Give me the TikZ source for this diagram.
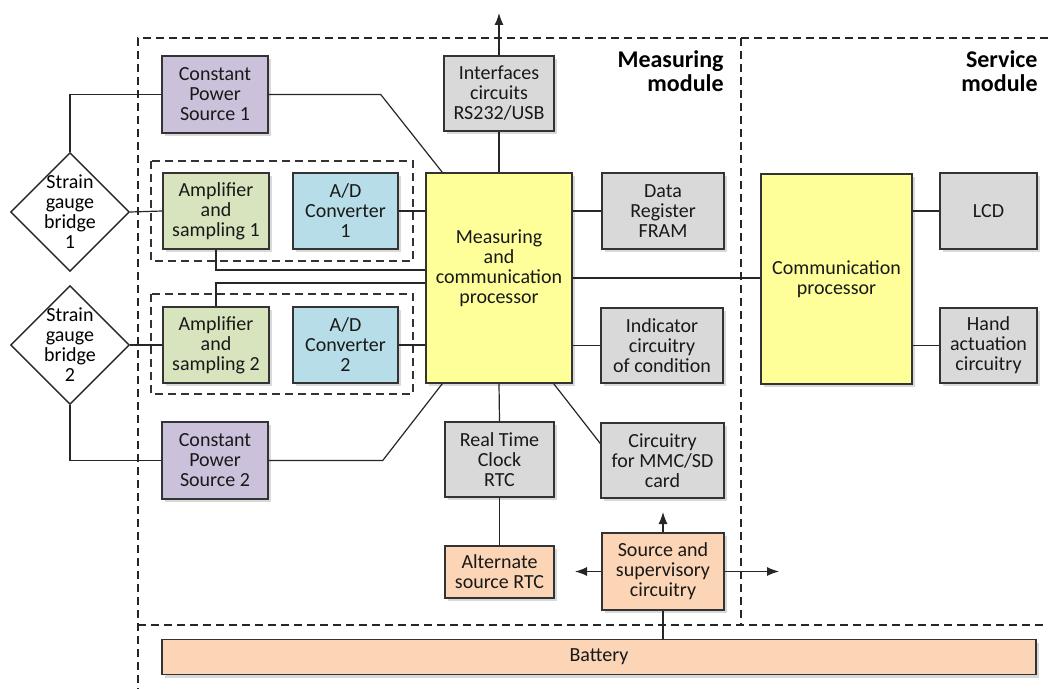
\documentclass[tikz,border=0pt]{standalone}
\usepackage{fontspec}
\setmainfont{Carlito}
\usetikzlibrary{shapes, arrows.meta, positioning, shadows}
\definecolor{cpscol}{RGB}{204,193,218}
\definecolor{ampcol}{RGB}{215,228,189}
\definecolor{adccol}{RGB}{183,222,232}
\definecolor{proccol}{RGB}{255,255,153}
\definecolor{boxcol}{RGB}{217,217,217}
\definecolor{srccol}{RGB}{251,213,181}
\tikzstyle{block} = [draw=black!80, line width=0.7pt, rectangle, align=center, inner sep=1pt, text=black!90, font=\fontsize{10}{10}\selectfont, drop shadow={shadow xshift=1.5pt, shadow yshift=-1.5pt, opacity=0.3}]
\tikzstyle{bridge} = [draw=black!85, line width=0.7pt, diamond, aspect=1, minimum size=59.5pt, inner sep=-1pt, align=center, fill=white, font=\fontsize{10}{10}\selectfont]
\tikzstyle{group} = [draw=black!80, line width=0.8pt, dash pattern=on 4pt off 2.5pt]
\tikzstyle{module} = [draw=black!85, line width=0.9pt, dash pattern=on 4pt off 2.5pt]
\tikzstyle{modlabel} = [align=right, inner sep=0pt, font=\bfseries\fontsize{12}{12}\selectfont]
\tikzstyle{wire} = [draw=black!85, line width=0.6pt]

\begin{document}
\begin{tikzpicture}[x=0.5pt, y=-0.5pt, >={Latex[length=6pt,width=4.5pt]}]
    \useasboundingbox (0,0) rectangle (1048,689);
    \draw [module] (1048,38) -- (138,38) -- (138,689);
    \draw [module] (741,38) -- (741,625);
    \draw [module] (138,625) -- (1048,625);
    \node [modlabel, anchor=north east] (meas) at (724,50) {Measuring\\module};
    \node [modlabel, anchor=north east] (serv) at (1038,50) {Service\\module};
    \draw [group] (151,161) rectangle (413,261);
    \draw [group] (151,294) rectangle (413,394);

    \node [block, fill=cpscol, minimum width=53pt, minimum height=38.5pt] (cps1) at (215,94.5) {Constant\\Power\\Source 1};
    \node [block, fill=cpscol, minimum width=53pt, minimum height=38.5pt] (cps2) at (215,460.5) {Constant\\Power\\Source 2};
    \node [bridge] (sgb1) at (70,212) {Strain\\gauge\\bridge\\1};
    \node [bridge] (sgb2) at (70,345) {Strain\\gauge\\bridge\\2};
    \node [block, fill=ampcol, minimum width=53pt, minimum height=38pt] (amp1) at (216,211) {Amplifier\\and\\sampling 1};
    \node [block, fill=adccol, minimum width=52.5pt, minimum height=38pt, right of=amp1, node distance=64.75pt] (adc1) {A/D\\Converter\\1};
    \node [block, fill=ampcol, minimum width=53pt, minimum height=38pt] (amp2) at (216,345) {Amplifier\\and\\sampling 2};
    \node [block, fill=adccol, minimum width=52.5pt, minimum height=38pt, right of=amp2, node distance=64.75pt] (adc2) {A/D\\Converter\\2};

    \node [block, fill=proccol, minimum width=73pt, minimum height=105pt] (mcp) at (499,278) {Measuring\\and\\communication\\processor\\[1pt]};
    \node [block, fill=boxcol, minimum width=55pt, minimum height=37.5pt] (iface) at (499,93.5) {Interfaces\\circuits\\RS232/USB};
    \node [block, fill=boxcol, minimum width=61pt, minimum height=38pt] (data) at (663,211) {Data\\Register\\FRAM};
    \node [block, fill=boxcol, minimum width=61pt, minimum height=37.5pt] (ind) at (662,345.5) {Indicator\\circuitry\\of condition};
    \node [block, fill=boxcol, minimum width=54.5pt, minimum height=37.5pt] (rtc) at (499.5,459.5) {Real Time\\Clock\\RTC};
    \node [block, fill=boxcol, minimum width=61.5pt, minimum height=37.5pt] (mmc) at (662.5,460.5) {Circuitry\\for MMC/SD\\card};
    \node [block, fill=srccol, minimum width=54.5pt, minimum height=26pt] (alt) at (499.5,572) {Alternate\\source RTC};
    \node [block, fill=srccol, minimum width=61pt, minimum height=38.5pt] (src) at (663,571.5) {Source and\\supervisory\\circuitry};

    \node [block, fill=proccol, minimum width=75.5pt, minimum height=105pt] (comm) at (836.5,279) {Communication\\processor};
    \node [block, fill=boxcol, minimum width=48.5pt, minimum height=38pt] (lcd) at (988.5,211) {LCD};
    \node [block, fill=boxcol, minimum width=48.5pt, minimum height=37.5pt, below of=lcd, node distance=67.25pt] (hand) {Hand\\actuation\\circuitry};
    \node [block, fill=srccol, minimum width=437pt, minimum height=17.5pt] (bat) at (599,657) {Battery};

    \coordinate (out) at (499,13);
    \coordinate (srcup) at (663,512);
    \coordinate (srcleft) at (575,571.5);
    \coordinate (srcright) at (779,571.5);

    \draw [wire] (sgb1.north) |- (cps1.west);
    \draw [wire] (sgb2.south) |- (cps2.west);
    \draw [wire] (cps1.east) -- ++(112,0) -- ([xshift=8.5pt]mcp.north west);
    \draw [wire] (cps2.east) -- ++(114,0) -- ([xshift=8.5pt]mcp.south west);
    \draw [wire] (sgb1.east) -- (amp1.west);
    \draw [wire] (sgb2.east) -- (amp2.west);
    \draw [wire] (adc1.east) -- (adc1.east -| mcp.west);
    \draw [wire] (adc2.east) -- (adc2.east -| mcp.west);
    \draw [wire] (amp1.south) |- ([yshift=4pt]mcp.west);
    \draw [wire] (amp2.north) |- ([yshift=-2.5pt]mcp.west);
    \draw [wire, ->] (iface.north) -- (out);
    \draw [wire] (mcp.north) -- (iface.south);
    \draw [wire] (data.west -| mcp.east) -- (data.west);
    \draw [wire] (ind.west -| mcp.east) -- (ind.west);
    \draw [wire] (mcp.east) -- (mcp.east -| comm.west);
    \draw [wire] (mcp.south) -- (rtc.north);
    \draw [wire] (rtc.south) -- (alt.north);
    \draw [wire] ([xshift=-9.5pt]mcp.south east) -- ([yshift=8.5pt]mmc.west);
    \draw [wire, ->] (src.north) -- (srcup);
    \draw [wire, ->] (src.west) -- (srcleft);
    \draw [wire, ->] (src.east) -- (srcright);
    \draw [wire] (src.south) -- (src.south |- bat.north);
    \draw [wire] (lcd.west -| comm.east) -- (lcd.west);
    \draw [wire] (hand.west -| comm.east) -- (hand.west);
\end{tikzpicture}
\end{document}
